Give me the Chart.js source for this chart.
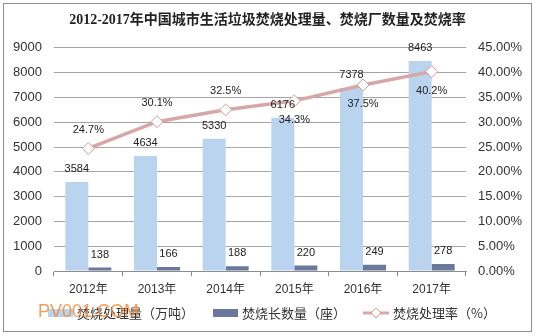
<!DOCTYPE html>
<html>
<head>
<meta charset="utf-8">
<script src="https://cdn.jsdelivr.net/npm/chart.js@4.4.0/dist/chart.umd.min.js"></script>
<style>
  html, body { margin: 0; padding: 0; background: #fff; }
</style>
</head>
<body>
<canvas id="chart" width="535" height="336"></canvas>
<script>
const years = ["2012年", "2013年", "2014年", "2015年", "2016年", "2017年"];
const amount = [3584, 4634, 5330, 6176, 7378, 8463];   // 万吨
const plants = [138, 166, 188, 220, 249, 278];         // 座
const rate = [24.7, 30.1, 32.5, 34.3, 37.5, 40.2];     // %
const seriesNames = ["焚烧处理量（万吨）", "焚烧长数量（座）", "焚烧处理率（%）"];
const titleText = "2012-2017年中国城市生活垃圾焚烧处理量、焚烧厂数量及焚烧率";

const BLUE = "#BAD3EF";
const DARK = "#6A789C";
const PINK = "#D6A7A6";
const labelFont = '11px "Liberation Sans", Arial, sans-serif';
const rateSide = ["up", "up", "up", "down", "down", "down"];

// value labels, legend, watermark, frame
var extras = {
    id: "extras",
    beforeDraw: function(chart) {
        var ctx = chart.ctx;
        ctx.save();
        ctx.fillStyle = "#fff";
        ctx.fillRect(0, 0, chart.width, chart.height);
        ctx.strokeStyle = "#8c8c8c";
        ctx.lineWidth = 1;
        ctx.strokeRect(3.5, 3.5, 528, 328);
        ctx.restore();
    },
    afterDraw: function(chart) {
        var ctx = chart.ctx;
        ctx.save();
        ctx.font = labelFont;
        ctx.fillStyle = "#222";
        ctx.textAlign = "center";
        ctx.textBaseline = "middle";

        [0, 1].forEach(function(d) {
            chart.getDatasetMeta(d).data.forEach(function(bar, i) {
                ctx.fillText(chart.data.datasets[d].data[i], bar.x, bar.y - 13);
            });
        });
        chart.getDatasetMeta(2).data.forEach(function(pt, i) {
            var dy = rateSide[i] == "up" ? -18.5 : 19;
            ctx.fillText(rate[i].toFixed(1) + "%", pt.x, pt.y + dy);
        });

        // legend
        var ly = 313;
        ctx.textAlign = "left";
        ctx.font = '13px "Noto Sans CJK SC", sans-serif';
        ctx.fillStyle = BLUE;
        ctx.fillRect(48, 309, 25, 8);
        ctx.fillStyle = DARK;
        ctx.fillRect(213, 309, 25, 8);
        ctx.strokeStyle = PINK;
        ctx.lineWidth = 3;
        ctx.beginPath();
        ctx.moveTo(363, ly);
        ctx.lineTo(389, ly);
        ctx.stroke();
        ctx.fillStyle = "#fff";
        ctx.strokeStyle = "#D99A98";
        ctx.lineWidth = 1;
        ctx.beginPath();
        ctx.moveTo(376, ly - 5);
        ctx.lineTo(381, ly);
        ctx.lineTo(376, ly + 5);
        ctx.lineTo(371, ly);
        ctx.closePath();
        ctx.fill();
        ctx.stroke();
        ctx.fillStyle = "#333";
        ctx.fillText(seriesNames[0], 77, ly);
        ctx.fillText(seriesNames[1], 242, ly);
        ctx.fillText(seriesNames[2], 393, ly);

        // watermark
        ctx.font = '18px "Liberation Sans", Arial, sans-serif';
        ctx.fillStyle = "rgba(243, 132, 48, 0.8)";
        ctx.textBaseline = "alphabetic";
        ctx.fillText("PV001.COM", 38, 317);
        ctx.restore();
    }
};

new Chart(document.getElementById("chart"), {
    type: "bar",
    data: {
        labels: years,
        datasets: [
            {
                label: seriesNames[0],
                data: amount,
                backgroundColor: BLUE,
                yAxisID: "y",
                order: 2
            }, {
                label: seriesNames[1],
                data: plants,
                backgroundColor: DARK,
                yAxisID: "y",
                order: 2
            }, {
                type: "line",
                label: seriesNames[2],
                data: rate,
                yAxisID: "y1",
                borderColor: PINK,
                borderWidth: 3.5,
                pointStyle: "rectRot",
                pointRadius: 6,
                pointBackgroundColor: "#fff",
                pointBorderColor: "#D99A98",
                pointBorderWidth: 1,
                tension: 0,
                order: 0
            }
        ]
    },
    options: {
        responsive: false,
        animation: false,
        devicePixelRatio: 1,
        layout: { padding: 0 },
        datasets: {
            bar: { categoryPercentage: 0.67, barPercentage: 1.0 }
        },
        plugins: {
            legend: { display: false },
            tooltip: { enabled: false },
            title: {
                display: true,
                text: titleText,
                color: "#222",
                font: { family: '"Liberation Serif", "Noto Sans CJK SC", serif', size: 14, weight: "bold" },
                padding: { top: 12, bottom: 19 }
            }
        },
        scales: {
            x: {
                grid: { offset: true, drawOnChartArea: false, tickLength: 5, color: "#8c8c8c" },
                border: { color: "#8c8c8c" },
                ticks: { color: "#333", padding: 6, font: { family: '"Liberation Sans", "Noto Sans CJK SC", sans-serif', size: 12 } },
                afterFit: function(scale) { scale.height = 65; }
            },
            y: {
                position: "left",
                min: 0,
                max: 9000,
                ticks: {
                    stepSize: 1000,
                    color: "#333",
                    padding: 12,
                    font: { family: '"Liberation Sans", Arial, sans-serif', size: 13 },
                    callback: function(v) { return String(v); }
                },
                grid: { color: "#a6a6a6", drawTicks: false },
                border: { display: false },
                afterFit: function(scale) { scale.width = 54; }
            },
            y1: {
                position: "right",
                min: 0,
                max: 45,
                ticks: {
                    stepSize: 5,
                    color: "#333",
                    padding: 12,
                    font: { family: '"Liberation Sans", Arial, sans-serif', size: 13 },
                    callback: function(v) { return v.toFixed(2) + "%"; }
                },
                grid: { drawOnChartArea: false, drawTicks: false },
                border: { display: false },
                afterFit: function(scale) { scale.width = 69; }
            }
        }
    },
    plugins: [extras]
});
</script>
</body>
</html>
